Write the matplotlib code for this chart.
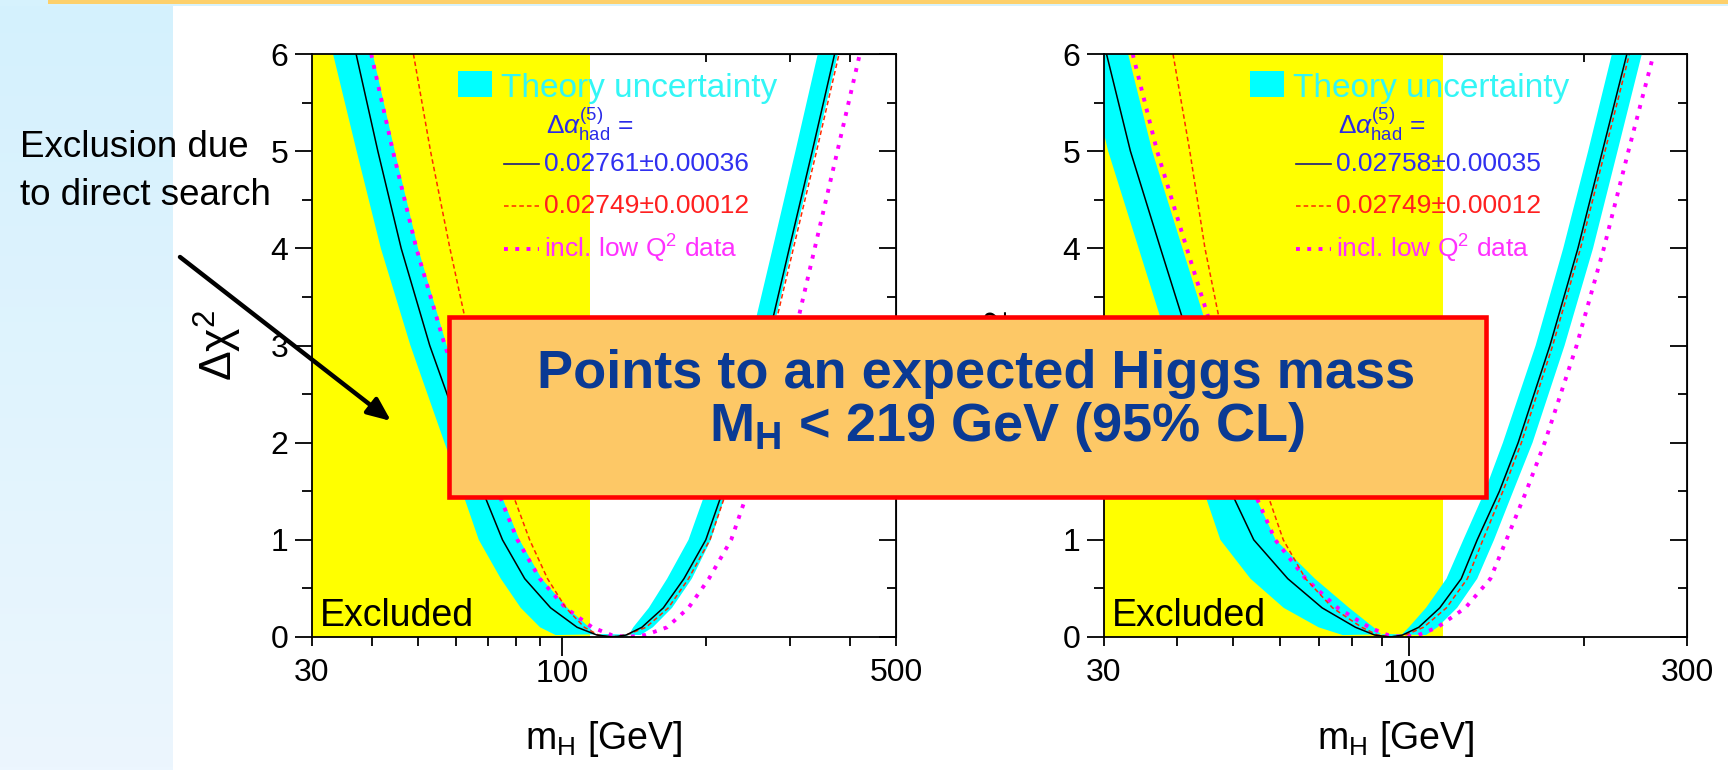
import numpy as np
import matplotlib
matplotlib.use('Agg')
import matplotlib.pyplot as plt
from matplotlib.patches import Rectangle, FancyArrowPatch
from matplotlib.lines import Line2D

plt.rcParams['font.family'] = ['Liberation Sans', 'DejaVu Sans']
plt.rcParams['mathtext.fontset'] = 'custom'
plt.rcParams['mathtext.rm'] = 'Liberation Sans'
plt.rcParams['mathtext.it'] = 'Liberation Sans:italic'
plt.rcParams['mathtext.bf'] = 'Liberation Sans:bold'

levels = [6, 5, 4, 3, 2, 1.5, 1, 0.6, 0.3, 0.1, 0.02]

# left panel: Δα_had = 0.02761 ± 0.00036   (m_H in GeV at each level, low / high branch)
L_black_lo = [37.1, 41.2, 46.1, 52.9, 62.5, 68.3, 75.1, 83.6, 94.7, 107.6, 118.4]
L_black_hi = [372, 334, 299, 268, 236, 217, 200, 180, 163, 147, 136.2]
L_black_min = 128
L_red_lo = [48.9, 53.1, 58.3, 64.5, 72.8, 78.5, 85.6, 93.3, 101.9, 111.4, 119.2]
L_red_hi = [380, 341, 305, 273, 241, 221, 204, 184, 167, 150, 136.2]
L_red_min = 126
L_mag_lo = [39.9, 44.3, 49.6, 56.9, 67.2, 73.4, 80.7, 89.9, 101.8, 115.7, 127]
L_mag_hi = [420, 377, 338, 303, 267, 245, 226, 203, 184, 166, 149.3]
L_mag_min = 137
L_band_out_lo = [33.2, 37.2, 41.8, 48.2, 56.8, 61.8, 67.0, 74.5, 82.0, 90.0, 97.0]
L_band_out_hi = [378, 339, 303, 272, 240, 221, 205, 187, 170, 155, 146]
L_band_out_min = (124, 0.03)
L_band_in_lo = [40.2, 44.7, 50.0, 57.4, 67.8, 74.1, 81.5, 90.7, 102.7, 114.0, 118.0]
L_band_in_hi = [343, 308, 276, 247, 218, 200, 184, 166, 152, 141, 138]
L_band_zero = (121, 134)

# right panel: Δα_had = 0.02758 ± 0.00035
R_black_lo = [30.3, 33.3, 37.5, 42.3, 46.8, 49.5, 54.2, 62.0, 71.0, 81.0, 87.4]
R_black_hi = [236.6, 214.8, 195, 174.6, 154, 143, 131, 123, 113, 104, 97.5]
R_black_min = 93
R_red_lo = [39.4, 42.1, 44.7, 48.3, 53.5, 57.0, 60.9, 66.5, 74.0, 83.0, 88.4]
R_red_hi = [239, 217, 197, 176.5, 156, 145, 134, 126, 116, 106, 98.6]
R_red_min = 93
R_mag_lo = [33.6, 37.0, 41.6, 46.9, 51.5, 54.2, 59.0, 66.5, 75.5, 85.5, 92.0]
R_mag_hi = [263, 238, 216, 194, 171, 159, 147, 138, 125, 112, 103.8]
R_mag_min = 97.7
R_band_out_lo = [27.8, 30.5, 34.4, 38.8, 42.5, 44.5, 47.5, 53.5, 61.0, 70.0, 77.0]
R_band_out_hi = [251, 228, 207, 185, 163, 151, 140, 131, 121, 112, 107]
R_band_out_min = (93, 0.03)
R_band_in_lo = [33.0, 36.3, 40.9, 46.1, 51.0, 54.0, 59.1, 69.0, 79.0, 87.0, 90.0]
R_band_in_hi = [223, 203, 184, 165, 145, 135, 124, 116, 107, 100, 97]
R_band_zero = (91, 96)

excluded_below = 114.4
L_xlim = (30, 500)
R_xlim = (30, 300)
L_minor = [30, 40, 50, 60, 70, 80, 90, 200, 300, 400, 500]
L_minor_labels = ['30', '', '', '', '', '', '', '', '', '', '500']
R_minor = [30, 40, 50, 60, 70, 80, 90, 200, 300]
R_minor_labels = ['30', '', '', '', '', '', '', '', '300']
L_top = [200, 300, 400]
R_top = [200]
L_legend = ['0.02761±0.00036', '0.02749±0.00012', 'incl. low Q$^2$ data']
R_legend = ['0.02758±0.00035', '0.02749±0.00012', 'incl. low Q$^2$ data']

CYAN = '#00ffff'
YELLOW = '#ffff00'
RED = '#ff2a00'
MAG = '#ff00ff'


def curve(lo, mmin, hi):
    m = list(lo) + [mmin] + list(hi)[::-1]
    y = list(levels) + [0] + list(levels)[::-1]
    return m, y


def band(out_lo, out_min, out_hi, in_lo, zero, in_hi):
    m = list(out_lo) + [out_min[0]] + list(out_hi)[::-1]
    y = list(levels) + [out_min[1]] + list(levels)[::-1]
    m += list(in_hi) + [zero[1], zero[0]] + list(in_lo)[::-1]
    y += list(levels) + [0, 0] + list(levels)[::-1]
    return m, y


def panel(ax, xlim, minor, minor_labels, top, legend, black, red, mag, bnd):
    ax.set_xscale('log')
    ax.axvspan(xlim[0], excluded_below, color=YELLOW, lw=0, zorder=0.5)
    bm, by = band(*bnd)
    ax.fill(bm, by, color=CYAN, lw=0, zorder=1)
    m, y = curve(*mag)
    ax.plot(m, y, color=MAG, lw=2.8, linestyle=(0, (1, 1.9)), zorder=2)
    m, y = curve(*red)
    ax.plot(m, y, color=RED, lw=1.1, linestyle=(0, (3, 2)), zorder=2.2)
    m, y = curve(*black)
    ax.plot(m, y, color='black', lw=1.1, zorder=2.4)

    ax.set_xlim(*xlim)
    ax.set_ylim(0, 6)
    ax.set_xticks([100], ['100'])
    ax.set_xticks(minor, minor_labels, minor=True)
    ax.set_yticks(range(7))
    ax.set_yticks(np.arange(0.5, 6, 1), minor=True)
    ax.tick_params(axis='x', which='major', length=14, width=1.3, pad=1.5, labelsize=23)
    ax.tick_params(axis='x', which='minor', length=6.5, width=1.3, pad=8.5, labelsize=23)
    ax.tick_params(axis='y', which='major', length=12, width=1.3, pad=5, labelsize=23)
    ax.tick_params(axis='y', which='minor', length=7, width=1.3)
    for s in ax.spines.values():
        s.set_linewidth(1.3)

    sy = ax.secondary_yaxis('right')
    sy.set_yticks(range(7))
    sy.set_yticks(np.arange(0.5, 6, 1), minor=True)
    sy.tick_params(which='major', direction='in', length=12, width=1.3, labelright=False)
    sy.tick_params(which='minor', direction='in', length=6.5, width=1.3)
    sx = ax.secondary_xaxis('top')
    sx.set_xticks(top)
    sx.set_xticks([], minor=True)
    sx.tick_params(which='major', direction='in', length=6, width=1.3, labeltop=False)

    ax.set_xlabel('m$_\\mathregular{H}$ [GeV]', fontsize=27, labelpad=22)
    ax.set_ylabel('Δχ$^{2}$', fontsize=32, labelpad=19)

    ax.text(0.014, 0.019, 'Excluded', transform=ax.transAxes, fontsize=27, va='baseline', zorder=5)

    # legend block
    ax.add_patch(Rectangle((0.250, 0.926), 0.058, 0.045, transform=ax.transAxes,
                           color=CYAN, lw=0, zorder=5))
    ax.text(0.324, 0.926, 'Theory uncertainty', transform=ax.transAxes, color='#33f6f6',
            fontsize=24, va='baseline', zorder=5)
    ax.text(0.401, 0.863, '$\\Delta\\alpha^{(5)}_{\\mathrm{had}}$ =', transform=ax.transAxes,
            color='#2a2ae8', fontsize=19, va='baseline', zorder=5)
    rows = [(0.811, '#1a1a80', '-', 1.2, '#3030f0'),
            (0.739, RED, (0, (3, 2)), 1.1, '#ff2020'),
            (0.666, MAG, (0, (1, 1.9)), 2.8, '#ff30ff')]
    for (yy, lc, ls, lw, tc), lab in zip(rows, legend):
        ax.add_line(Line2D([0.329, 0.389], [yy, yy], transform=ax.transAxes, color=lc,
                           linestyle=ls, lw=lw, zorder=5))
        ax.text(0.398, yy, lab, transform=ax.transAxes, color=tc, fontsize=19,
                va='center', zorder=5)


fig = plt.figure(figsize=(17.28, 7.70), dpi=100)

# slide decoration
bg = fig.add_axes([0, 0, 173 / 1728, 1], zorder=-5)
grad = np.linspace(0, 1, 256).reshape(-1, 1)
c_top = np.array([0xd4, 0xf1, 0xfd]) / 255
c_bot = np.array([0xec, 0xf6, 0xfe]) / 255
img = c_top[None, None, :] * (1 - grad[:, :, None]) + c_bot[None, None, :] * grad[:, :, None]
bg.imshow(img, aspect='auto', extent=[0, 1, 0, 1])
bg.axis('off')
fig.add_artist(Rectangle((0, 1 - 6 / 770), 1, 6 / 770, transform=fig.transFigure,
                         color='#d6f2fd', lw=0, zorder=-4))
fig.add_artist(Rectangle((48 / 1728, 1 - 3.5 / 770), 1, 3.5 / 770, transform=fig.transFigure,
                         color='#fdd06b', lw=0, zorder=-3))

axL = fig.add_axes([312 / 1728, 133 / 770, 584 / 1728, 583 / 770])
axR = fig.add_axes([1104 / 1728, 133 / 770, 583 / 1728, 583 / 770])

panel(axL, L_xlim, L_minor, L_minor_labels, L_top, L_legend,
      (L_black_lo, L_black_min, L_black_hi),
      (L_red_lo, L_red_min, L_red_hi),
      (L_mag_lo, L_mag_min, L_mag_hi),
      (L_band_out_lo, L_band_out_min, L_band_out_hi, L_band_in_lo, L_band_zero, L_band_in_hi))
panel(axR, R_xlim, R_minor, R_minor_labels, R_top, R_legend,
      (R_black_lo, R_black_min, R_black_hi),
      (R_red_lo, R_red_min, R_red_hi),
      (R_mag_lo, R_mag_min, R_mag_hi),
      (R_band_out_lo, R_band_out_min, R_band_out_hi, R_band_in_lo, R_band_zero, R_band_in_hi))

# annotation on the left
fig.text(20 / 1728, 1 - 157 / 770, 'Exclusion due', fontsize=26.5, va='baseline')
fig.text(20 / 1728, 1 - 205 / 770, 'to direct search', fontsize=26.5, va='baseline')
fig.add_artist(FancyArrowPatch((180 / 1728, 1 - 257 / 770), (391 / 1728, 1 - 421 / 770),
                               transform=fig.transFigure, arrowstyle='-|>,head_length=14,head_width=6',
                               color='black', lw=3.2, shrinkA=0, shrinkB=0, zorder=6))

# conclusion box
fig.add_artist(Rectangle((449 / 1728, 1 - 497 / 770), 1037 / 1728, 180 / 770,
                         transform=fig.transFigure, facecolor='#fdc866', edgecolor='#ff0000',
                         lw=3.3, zorder=7))
fig.text(976 / 1728, 1 - 388 / 770, 'Points to an expected Higgs mass', fontsize=39,
         fontweight='bold', color='#0a3a94', ha='center', va='baseline', zorder=8)
fig.text(1007 / 1728, 1 - 441 / 770, 'M$_{\\mathbf{H}}$ < 219 GeV (95% CL)', fontsize=39,
         fontweight='bold', color='#0a3a94', ha='center', va='baseline', zorder=8)

fig.savefig('out.png', dpi=100)
